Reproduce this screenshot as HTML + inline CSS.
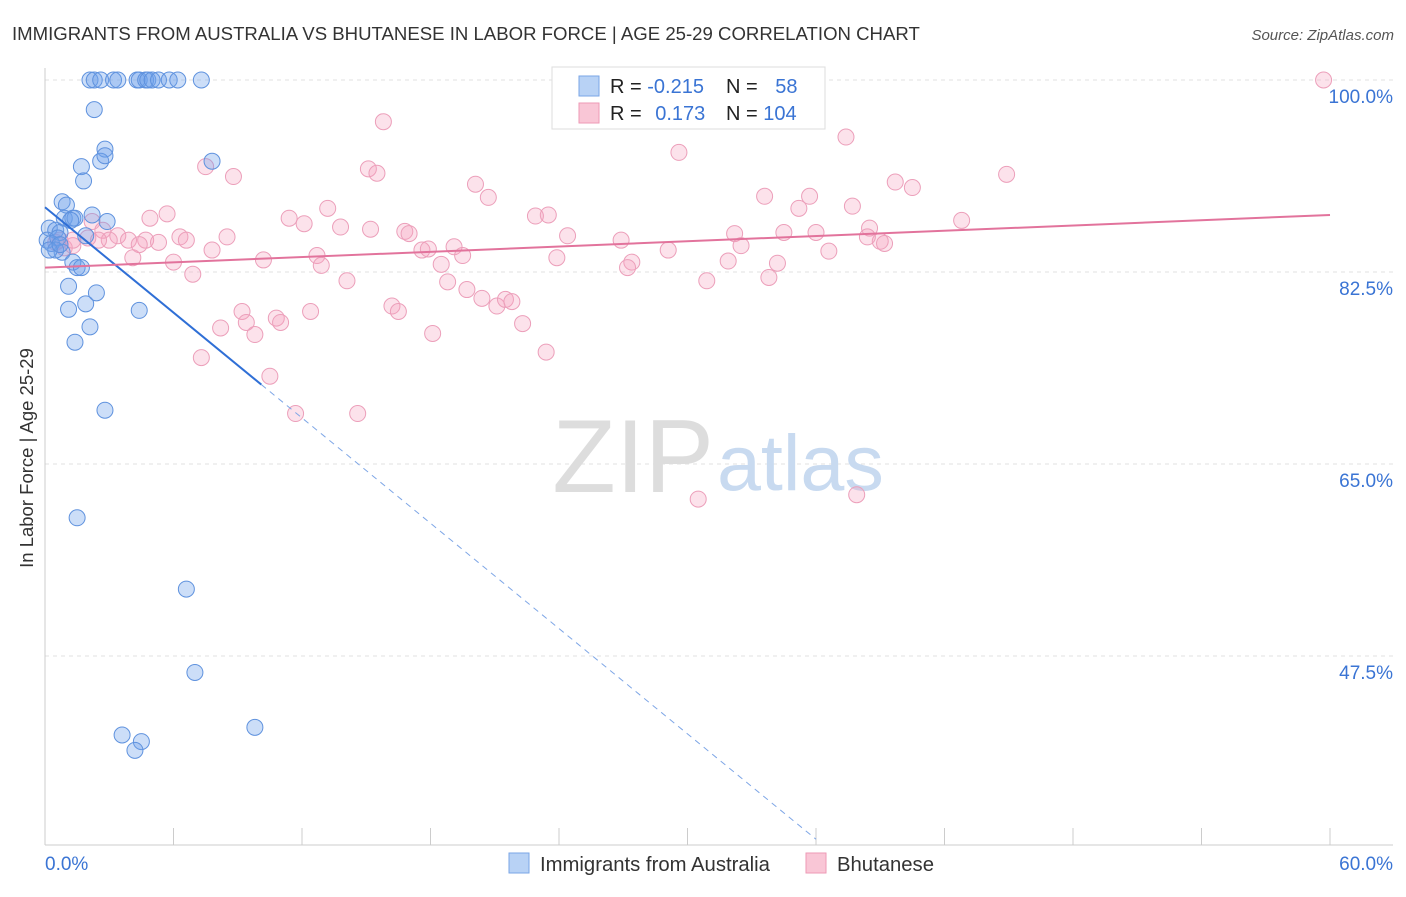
<!DOCTYPE html>
<html><head><meta charset="utf-8">
<style>
body{margin:0;background:#fff;font-family:"Liberation Sans",sans-serif;}
svg text{font-family:"Liberation Sans",sans-serif;}
</style></head>
<body>
<svg id="chart" width="1406" height="892">
<text x="12" y="40" font-size="18.6" fill="#333">IMMIGRANTS FROM AUSTRALIA VS BHUTANESE IN LABOR FORCE | AGE 25-29 CORRELATION CHART</text>
<text x="1394" y="40" font-size="15" fill="#555" font-style="italic" text-anchor="end">Source: ZipAtlas.com</text>
<text x="33" y="458" font-size="18.5" fill="#333" text-anchor="middle" transform="rotate(-90 33 458)">In Labor Force | Age 25-29</text>
<g id="grid"></g>
<text x="714" y="492" font-size="104" fill="#ddd" font-family="Liberation Serif" text-anchor="end">ZIP</text>
<text x="717" y="490" font-size="79" fill="#c8daf0" text-anchor="start">atlas</text>
<g id="pink"></g>
<g id="blue"></g>
<g id="lines"></g>
<g>
<rect x="552" y="67" width="273" height="62" fill="#fff" stroke="#ddd"/>
<rect x="579" y="76" width="20" height="20" fill="#b8d2f5" stroke="#7aa6e6"/>
<rect x="579" y="103" width="20" height="20" fill="#f9c6d6" stroke="#ee9ab6"/>
<text x="610" y="93" font-size="20" fill="#222">R = <tspan fill="#3a74d4">-0.215</tspan></text>
<text x="726" y="93" font-size="20" fill="#222">N = <tspan fill="#3a74d4" dx="12">58</tspan></text>
<text x="610" y="120" font-size="20" fill="#222">R = <tspan fill="#3a74d4" dx="8">0.173</tspan></text>
<text x="726" y="120" font-size="20" fill="#222">N = <tspan fill="#3a74d4">104</tspan></text>
</g>
<g>
<rect x="509" y="853" width="20" height="20" fill="#b8d2f5" stroke="#7aa6e6"/>
<text x="540" y="871" font-size="20.3" fill="#333">Immigrants from Australia</text>
<rect x="806" y="853" width="20" height="20" fill="#f9c6d6" stroke="#ee9ab6"/>
<text x="837" y="871" font-size="20.3" fill="#333">Bhutanese</text>
</g>
<text x="45" y="870" font-size="19" fill="#3a74d4">0.0%</text>
<text x="1393" y="870" font-size="19" fill="#3a74d4" text-anchor="end">60.0%</text>
</svg>
<script>
const yTicks=[100,82.5,65,47.5];
const yTickLabels=["100.0%","82.5%","65.0%","47.5%"];
const blueX=[2.1,2.3,2.6,3.2,3.4,4.3,4.4,4.7,4.8,5.0,5.3,5.8,6.2,7.3,2.3,2.8,2.6,2.8,7.8,1.7,1.8,0.8,1.0,0.9,1.3,1.4,2.2,2.9,0.2,0.5,0.7,0.1,0.3,0.6,1.9,0.8,0.5,1.3,1.5,1.7,1.1,2.4,1.1,1.9,4.4,2.1,1.4,2.8,1.5,6.6,7.0,9.8,3.6,4.5,4.2,0.2,0.7,1.2];
const blueY=[100,100,100,100,100,100,100,100,100,100,100,100,100,100,97.3,93.7,92.6,93.1,92.6,92.1,90.8,88.9,88.6,87.4,87.4,87.4,87.7,87.1,86.5,86.3,86.1,85.4,85.1,85.6,85.8,84.3,84.5,83.4,82.9,82.9,81.2,80.6,79.1,79.6,79.0,77.5,76.1,69.9,60.1,53.6,46.0,41.0,40.3,39.7,38.9,84.5,85.0,87.2];
const pinkX=[59.7,15.8,27.6,37.4,29.6,7.5,15.1,15.5,8.8,20.1,20.7,39.7,40.5,44.9,33.6,35.7,35.2,37.7,42.8,5.7,4.9,11.4,12.1,13.2,15.2,16.8,17.0,22.9,23.5,24.4,26.9,32.2,32.5,36.0,34.5,38.5,39.0,39.2,38.4,2.2,2.7,3.4,3.9,4.7,5.3,6.3,6.6,8.5,7.8,10.2,13.8,12.7,12.9,17.6,17.9,19.1,19.5,18.5,23.9,27.4,27.2,29.1,31.9,34.2,36.6,33.8,30.9,6.0,6.9,4.1,3.0,0.7,0.9,1.3,2.0,14.1,18.8,19.7,20.4,21.1,21.5,21.8,22.3,16.2,16.5,12.4,9.2,9.4,10.8,11.0,8.2,9.8,18.1,23.4,7.3,10.5,11.7,14.6,30.5,37.9,1.3,0.5,2.5,4.4];
const pinkY=[100,96.2,96.8,94.8,93.4,92.1,91.9,91.5,91.2,90.5,89.3,90.7,90.2,91.4,89.4,89.4,88.3,88.5,87.2,87.8,87.4,87.4,86.9,88.3,86.4,86.2,86.0,87.6,87.7,85.8,85.4,86.0,84.9,86.1,86.1,86.5,85.3,85.1,85.7,87.1,86.3,85.8,85.4,85.4,85.2,85.7,85.4,85.7,84.5,83.6,86.6,84.0,83.1,84.5,84.6,84.8,84.0,83.2,83.8,83.4,82.9,84.5,83.5,83.3,84.4,82.0,81.7,83.4,82.3,83.8,85.4,85.4,84.7,84.9,85.6,81.7,81.6,80.9,80.1,79.4,80.0,79.8,77.8,79.4,78.9,78.9,78.9,77.9,78.3,77.9,77.4,76.8,76.9,75.2,74.7,73.0,69.6,69.6,61.8,62.2,85.4,85.2,85.4,85.0];
const blueTrend=[88.4,-1.6];
const pinkTrend=[82.9,0.08];
const NS="http://www.w3.org/2000/svg";
const X0=45,X1=1330,Y100=80,PXPER=192/17.5;
function sx(v){return X0+(X1-X0)*v/60;}
function sy(v){return Y100+(100-v)*PXPER;}
function mk(tag,attrs,parent){const e=document.createElementNS(NS,tag);for(const k in attrs)e.setAttribute(k,attrs[k]);parent.appendChild(e);return e;}
const grid=document.getElementById('grid');
yTicks.forEach((t,i)=>{
 const l=mk('line',{x1:X0,x2:1393,y1:sy(t),y2:sy(t),stroke:'#e2e2e2','stroke-dasharray':'4,4'},grid);
 
 
 const tx=mk('text',{x:1393,y:sy(t)+23,'font-size':19,fill:'#3a74d4','text-anchor':'end'},grid);
 tx.textContent=yTickLabels[i];
 
 
});
let ax=mk('line',{x1:X0,x2:X0,y1:68,y2:845,stroke:'#ccc'},grid);


ax=mk('line',{x1:X0,x2:1393,y1:845,y2:845,stroke:'#ccc'},grid);


for(let i=1;i<=10;i++){
 const t=mk('line',{x1:sx(i*6),x2:sx(i*6),y1:828,y2:845,stroke:'#ccc'},grid);
 
 
}
const pg=document.getElementById('pink');
pinkX.forEach((x,i)=>{
 const c=mk('circle',{cx:sx(x),cy:sy(pinkY[i]),r:8,fill:'rgba(244,160,190,0.3)',stroke:'#ec9fba','stroke-width':1},pg);
 
 
});
const bg=document.getElementById('blue');
blueX.forEach((x,i)=>{
 const c=mk('circle',{cx:sx(x),cy:sy(blueY[i]),r:8,fill:'rgba(110,160,235,0.35)',stroke:'#5f92de','stroke-width':1},bg);
 
 
});
const lg=document.getElementById('lines');
const bf=v=>blueTrend[0]+blueTrend[1]*v;
const pf=v=>pinkTrend[0]+pinkTrend[1]*v;
let l=mk('line',{x1:sx(0),y1:sy(bf(0)),x2:sx(10.1),y2:sy(bf(10.1)),stroke:'#2f6fd6','stroke-width':2},lg);


l=mk('line',{x1:sx(10.1),y1:sy(bf(10.1)),x2:sx(36),y2:sy(bf(36)),stroke:'#7ea6e6','stroke-width':1,'stroke-dasharray':'6,5'},lg);


l=mk('line',{x1:sx(0),y1:sy(pf(0)),x2:sx(60),y2:sy(pf(60)),stroke:'#e2739c','stroke-width':2},lg);


</script>
</body></html>
